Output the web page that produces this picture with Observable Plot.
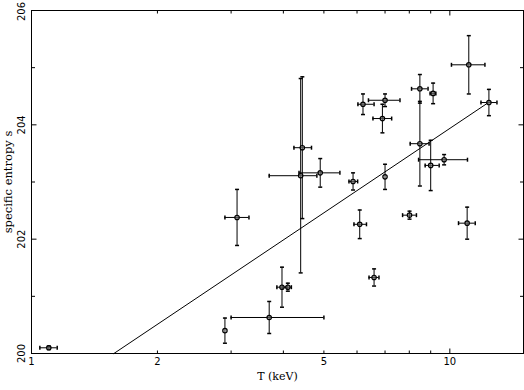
<!DOCTYPE html>
<html><head><meta charset="utf-8">
<script src="https://cdn.jsdelivr.net/npm/d3@7"></script>
<script src="https://cdn.jsdelivr.net/npm/@observablehq/plot@0.6"></script>
<style>html,body{margin:0;padding:0;background:#fff;}</style>
</head><body><div id="chart"></div>
<script>
// temperatures (keV) with x-error ranges, entropies with symmetric errors
const T    = [1.10, 2.90, 3.70, 3.10, 3.97, 4.10, 4.44, 4.40, 4.90, 5.87, 6.20, 7.00, 6.90, 7.00, 6.09, 6.59, 8.01, 11.0, 8.48, 8.48, 9.12, 9.00, 9.69, 11.1, 12.40];
const tLo  = [1.047, null, 3.00, 2.90, 3.86, 3.98, 4.24, 3.70, 4.36, 5.74, 6.03, 6.39, 6.55, null, 5.90, 6.41, 7.71, 10.49, 8.10, 8.04, 8.97, 8.73, 8.42, 10.09, 11.87];
const tHi  = [1.152, null, 5.00, 3.31, 4.08, 4.18, 4.67, 4.81, 5.46, 6.02, 6.59, 7.60, 7.26, null, 6.32, 6.77, 8.32, 11.50, 8.87, 8.92, 9.26, 9.43, 11.02, 12.13, 12.96];
const S    = [200.10, 200.40, 200.63, 202.38, 201.16, 201.16, 203.60, 203.11, 203.16, 203.01, 204.36, 204.43, 204.11, 203.09, 202.26, 201.33, 202.42, 202.28, 204.63, 203.67, 204.55, 203.29, 203.39, 205.05, 204.39];
const sErr = [0.03, 0.22, 0.28, 0.49, 0.35, 0.07, 1.24, 1.70, 0.25, 0.15, 0.18, 0.11, 0.25, 0.22, 0.25, 0.15, 0.07, 0.28, 0.25, 0.74, 0.18, 0.44, 0.09, 0.51, 0.23];

// fitted line endpoints
const fitT = [1.574, 12.31];
const fitS = [200.0, 204.38];

// ticks and labels
const xMajor = [1, 10];
const xMinor = [2, 3, 4, 5, 6, 7, 8, 9];
const xLabels = [1, 2, 5, 10];
const yMajor = [200, 202, 204, 206];
const yMinor = [201, 203, 205];
const yLabelsLow = [200, 202, 204];
const yLabelsTop = [206];
const xTitle = "T (keV)";
const yTitle = "specific entropy s";

const pts = T.map((t, i) => ({t, tlo: tLo[i], thi: tHi[i], s: S[i], slo: S[i] - sErr[i], shi: S[i] + sErr[i]}));
const withX = pts.filter(d => d.tlo != null);
const fit = fitT.map((t, i) => ({t, s: fitS[i]}));

const rad = size => Math.sqrt(size / Math.PI);
const capH = {draw(c, size) { const r = rad(size); c.moveTo(-r, 0); c.lineTo(r, 0); }};
const capV = {draw(c, size) { const r = rad(size); c.moveTo(0, -r); c.lineTo(0, r); }};
const tickUp = {draw(c, size) { const r = rad(size); c.moveTo(0, 0); c.lineTo(0, -r); }};
const tickDown = {draw(c, size) { const r = rad(size); c.moveTo(0, 0); c.lineTo(0, r); }};
const tickRight = {draw(c, size) { const r = rad(size); c.moveTo(0, 0); c.lineTo(r, 0); }};
const tickLeft = {draw(c, size) { const r = rad(size); c.moveTo(0, 0); c.lineTo(-r, 0); }};

const tk = (data, dim, anchor, symbol, r) =>
  Plot.dot(data, {[dim]: d => d, frameAnchor: anchor, symbol, r, stroke: "black", fill: "none", strokeWidth: 1});

const yLab = (data, dy) => Plot.text(data, {y: d => d, text: d => String(d), frameAnchor: "left", textAnchor: "middle", lineAnchor: "middle", dx: -10, dy, rotate: -90, fontFamily: "DejaVu Sans", fontSize: 10, fill: "black"});

const chart = Plot.plot({
  width: 524, height: 390,
  marginLeft: 31, marginRight: 1, marginTop: 10, marginBottom: 37,
  x: {type: "log", domain: [1, 15], axis: null},
  y: {domain: [200, 206], axis: null},
  style: {background: "white", color: "black", fontFamily: "DejaVu Sans", fontSize: "10px"},
  marks: [
    Plot.frame({stroke: "black"}),
    tk(xMajor, "x", "bottom", tickUp, 5),
    tk(xMinor, "x", "bottom", tickUp, 3),
    tk(xMajor, "x", "top", tickDown, 5),
    tk(xMinor, "x", "top", tickDown, 3),
    tk(yMajor, "y", "left", tickRight, 5),
    tk(yMinor, "y", "left", tickRight, 3.5),
    tk(yMajor, "y", "right", tickLeft, 5),
    tk(yMinor, "y", "right", tickLeft, 3.5),
    Plot.line(fit, {x: "t", y: "s", stroke: "black", strokeWidth: 1}),
    Plot.ruleX(pts, {x: "t", y1: "slo", y2: "shi", stroke: "black", strokeWidth: 1}),
    Plot.ruleY(withX, {y: "s", x1: "tlo", x2: "thi", stroke: "black", strokeWidth: 1}),
    Plot.dot(pts, {x: "t", y: "slo", symbol: capH, r: 2, stroke: "black", fill: "none"}),
    Plot.dot(pts, {x: "t", y: "shi", symbol: capH, r: 2, stroke: "black", fill: "none"}),
    Plot.dot(withX, {x: "tlo", y: "s", symbol: capV, r: 2, stroke: "black", fill: "none"}),
    Plot.dot(withX, {x: "thi", y: "s", symbol: capV, r: 2, stroke: "black", fill: "none"}),
    Plot.dot(pts, {x: "t", y: "s", r: 2.2, stroke: "black", fill: "#999", fillOpacity: 0.5, strokeWidth: 1.2}),
    Plot.text(xLabels, {x: d => d, text: d => String(d), frameAnchor: "bottom", dy: 11, fontFamily: "DejaVu Sans", fontSize: 10, fill: "black"}),
    yLab(yLabelsLow, 0),
    yLab(yLabelsTop, 1),
    Plot.text([xTitle], {text: d => d, frameAnchor: "bottom", textAnchor: "middle", dy: 26, fontFamily: "DejaVu Serif", fontSize: 11, fill: "black"}),
    Plot.text([yTitle], {text: d => d, frameAnchor: "left", textAnchor: "middle", lineAnchor: "middle", dx: -23, rotate: -90, fontFamily: "DejaVu Serif", fontSize: 11.5, fill: "black"})
  ]
});
document.getElementById("chart").appendChild(chart);
</script>
</body></html>
